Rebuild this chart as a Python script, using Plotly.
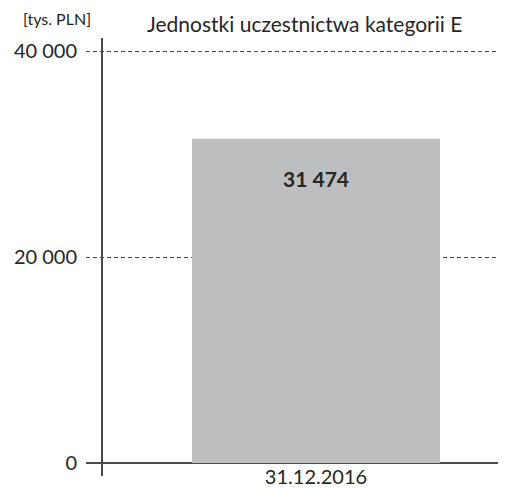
import plotly.graph_objects as go

categories = ["31.12.2016"]
values = [31474]
y_ticks = [0, 20000, 40000]
y_tick_labels = ["0", "20 000", "40 000"]
y_max = 40200
title_text = "Jednostki uczestnictwa kategorii E"
unit_text = "[tys. PLN]"

# the page adds an 8px body margin, so the figure is 8px smaller each way
W, H = 498, 480
ML, MR, MT, MB = 78, 0, 41, 25
PW = W - ML - MR
PH = H - MT - MB
TOP = MT + 8  # plot top in page pixels

FONT = "Lato"
TXT = "#262626"
LINE = "#4a4a4a"

fig = go.Figure()
fig.add_trace(go.Bar(
    x=categories, y=values,
    width=0.5905,
    marker=dict(color="#bdbec0", line=dict(width=0)),
    hoverinfo="skip",
))

for c, v in zip(categories, values):
    fig.add_annotation(
        x=c, y=v, xref="x", yref="y",
        text="<b>" + f"{v:,}".replace(",", " ") + "</b>",
        showarrow=False, yanchor="middle", yshift=-40,
        font=dict(family=FONT, size=21, color=TXT),
    )

# y axis line (extends above and below the plot area)
fig.add_shape(type="line", xref="paper", yref="paper",
              x0=16 / PW, x1=16 / PW, y0=-13 / PH, y1=1 + (TOP - 38) / PH,
              line=dict(color=LINE, width=2), layer="above")

fig.add_annotation(
    xref="paper", yref="paper", x=(304 - 86) / PW, y=1 + (TOP - 24) / PH,
    text=title_text, showarrow=False, xanchor="center", yanchor="middle",
    font=dict(family=FONT, size=21, color=TXT),
)
fig.add_annotation(
    xref="paper", yref="paper", x=(57 - 86) / PW, y=1 + (TOP - 18) / PH,
    text=unit_text, showarrow=False, xanchor="center", yanchor="middle",
    font=dict(family=FONT, size=16, color=TXT),
)

fig.update_layout(
    width=W, height=H,
    margin=dict(l=ML, r=MR, t=MT, b=MB, pad=0),
    paper_bgcolor="white", plot_bgcolor="white",
    showlegend=False,
    font=dict(family=FONT, size=20, color=TXT),
    xaxis=dict(
        type="category",
        range=[-0.5476, 0.4524],
        showgrid=False, showline=False, zeroline=False,
        ticks="", tickfont=dict(family=FONT, size=20, color=TXT),
        automargin=False,
        fixedrange=True,
    ),
    yaxis=dict(
        range=[0, y_max],
        tickvals=y_ticks, ticktext=y_tick_labels,
        showgrid=True, gridcolor=LINE, gridwidth=1, griddash="4px,3px",
        zeroline=True, zerolinecolor=LINE, zerolinewidth=2,
        showline=False, ticks="",
        ticklabelstandoff=8,
        tickfont=dict(family=FONT, size=20, color=TXT),
        automargin=False,
        fixedrange=True,
    ),
)

fig.write_html("out.html")
